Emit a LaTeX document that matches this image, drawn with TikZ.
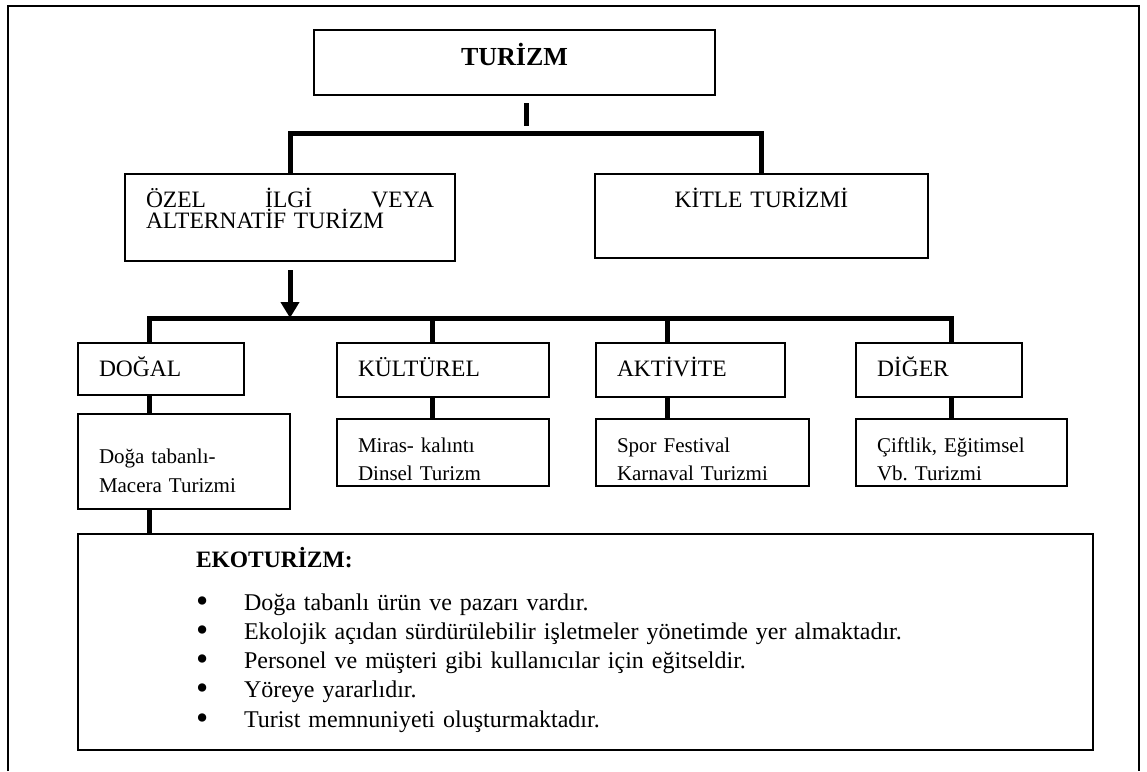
\documentclass[tikz,border=0pt]{standalone}
\usepackage{graphicx}
\usepackage{fontspec}
\setmainfont{Liberation Serif}
\usetikzlibrary{positioning,calc,arrows.meta}
\newcommand\madde{\makebox[48pt][l]{\raisebox{-2pt}[0pt][0pt]{\scalebox{1.45}{\textbullet}}}}

\begin{document}
\begin{tikzpicture}[x=1pt,y=-1pt,
        kutu/.style={draw,line width=1.8pt,anchor=north west,outer sep=0pt,inner ysep=0pt,inner xsep=21pt,align=left},
        baslik/.style={kutu,font=\fontsize{23.5}{21.5}\selectfont,text height=33pt},
        altkutu/.style={kutu,font=\fontsize{21}{28}\selectfont,text width=171pt,text height=33pt,text depth=34pt},
        bag/.style={line width=5pt},
        ok/.style={line width=5pt,-{Triangle[width=18pt,length=16pt]}}]
        \useasboundingbox (0,0) rectangle (1147,771);
        \draw[line width=1.8pt] (8,771) |- (1139,6) -- (1139,771);

        \node[kutu,text width=359pt,align=center,text height=35pt,text depth=30pt,font=\fontsize{26}{30}\selectfont\bfseries](turizm)at(314,30){TURİZM};
        \node[baslik,text width=288pt,text depth=54pt](ozel)at(125,174){\makebox[288pt]{ÖZEL\hfill İLGİ\hfill VEYA}\\ALTERNATİF TURİZM};
        \node[baslik,text width=291pt,align=center,text depth=51pt](kitle)at(595,174){KİTLE TURİZMİ};

        \node[baslik,text width=124pt,text depth=19pt](dogal)at(78,343){DOĞAL};
        \node[baslik,text width=170pt,text depth=21pt](kultur)at(337,343){KÜLTÜREL};
        \node[baslik,text width=147pt,text depth=21pt](aktivite)at(596,343){AKTİVİTE};
        \node[baslik,text width=124pt,text depth=21pt](diger)at(856,343){DİĞER};

        \node[altkutu,text width=170pt,text height=49pt,text depth=46pt,font=\fontsize{21}{29}\selectfont](doga)at(78,414){Doğa tabanlı-\\Macera Turizmi};
        \node[altkutu,text width=170pt](miras)at(337,419){Miras- kalıntı\\Dinsel Turizm};
        \node[altkutu](spor)at(596,419){Spor Festival\\Karnaval Turizmi};
        \node[altkutu,text width=169pt](ciftlik)at(856,419){Çiftlik, Eğitimsel\\Vb.\ Turizmi};

        \node[kutu,text width=779pt,inner xsep=118pt,text height=33pt,text depth=183pt,font=\fontsize{24}{29.25}\selectfont](eko)at(78,534){\textbf{\fontsize{23.5}{29.25}\selectfont EKOTURİZM:}\\[13.75pt]
            \madde Doğa tabanlı ürün ve pazarı vardır.\\
            \madde Ekolojik açıdan sürdürülebilir işletmeler yönetimde yer almaktadır.\\
            \madde Personel ve müşteri gibi kullanıcılar için eğitseldir.\\
            \madde Yöreye yararlıdır.\\
            \madde Turist memnuniyeti oluşturmaktadır.};

        \coordinate (kok) at (526,103);
        \coordinate (kokalt) at (526,126);
        \coordinate (catal) at (526,133);
        \draw[bag] (kok) -- (kokalt);
        \draw[bag] (ozel.north) |- (catal) -| (kitle.north);

        \coordinate (oktepe) at ($(ozel.south)+(0,9)$);
        \coordinate (b1) at (149,318);
        \coordinate (b2) at (432,318);
        \coordinate (b3) at (667,318);
        \coordinate (b4) at (951,318);
        \draw[ok] (oktepe) -- (oktepe |- b1);
        \draw[bag] (b1 |- dogal.north) -- (b1) -- (b4) -- (b4 |- diger.north);
        \draw[bag] (b2) -- (b2 |- kultur.north);
        \draw[bag] (b3) -- (b3 |- aktivite.north);

        \draw[bag] (b1 |- dogal.south) -- (b1 |- doga.north);
        \draw[bag] (b2 |- kultur.south) -- (b2 |- miras.north);
        \draw[bag] (b3 |- aktivite.south) -- (b3 |- spor.north);
        \draw[bag] (b4 |- diger.south) -- (b4 |- ciftlik.north);
        \draw[bag] (b1 |- doga.south) -- (b1 |- eko.north);
    \end{tikzpicture}
\end{document}
